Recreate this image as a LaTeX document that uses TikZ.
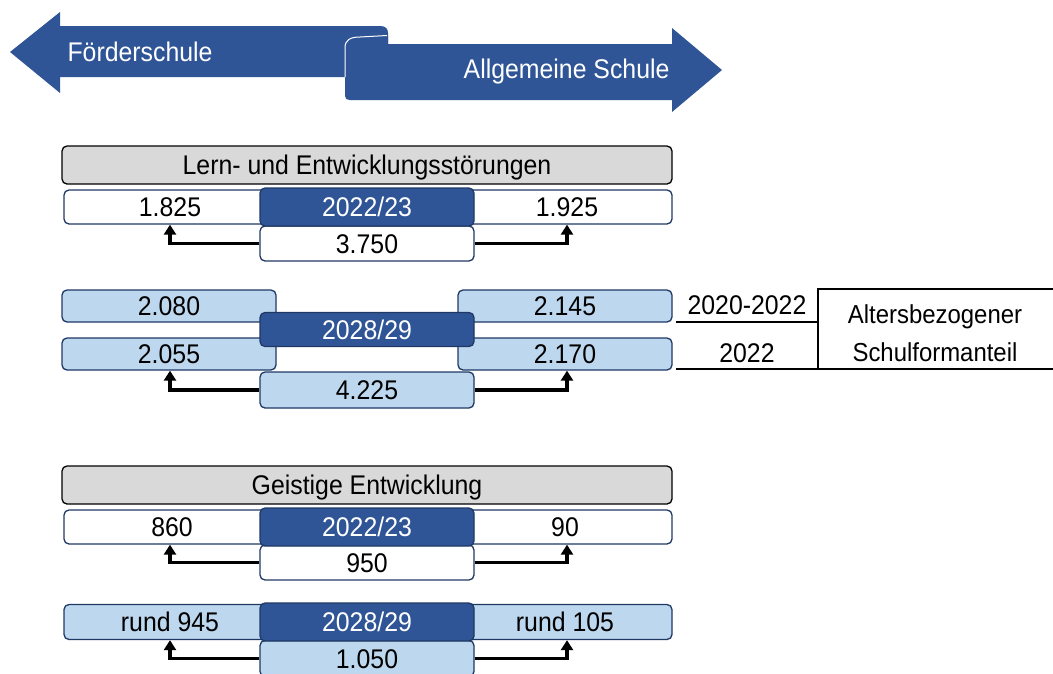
\documentclass[tikz,border=0pt]{standalone}
\usepackage{fontspec}
\setmainfont[FakeStretch=0.92]{Liberation Sans}
\usetikzlibrary{arrows.meta}
\definecolor{BannerBlue}{HTML}{2F5597}
\definecolor{BoxLine}{HTML}{1F3864}
\definecolor{PaleBlue}{HTML}{BDD7EE}
\definecolor{HeadGray}{HTML}{D9D9D9}

\tikzset{
  box/.style={draw=BoxLine, line width=1.3pt, rounded corners=5pt,
    minimum width=214pt, minimum height=34pt, inner sep=0pt,
    text height=19pt, text depth=0pt},
  headbox/.style={box, draw=black, fill=HeadGray, minimum width=610pt, minimum height=38pt},
  rowbox/.style={box, minimum width=608pt},
  yearbox/.style={box, fill=BannerBlue, text=white, minimum height=38pt},
  num/.style={inner sep=0pt, text height=19pt, text depth=0pt},
  arr/.style={line width=3.2pt, -{Triangle[length=10pt,width=12pt]}},
  rule/.style={line width=1.3pt},
}

\begin{document}
\begin{tikzpicture}[x=1pt,y=-1pt,font=\fontsize{27}{32}\selectfont]
  \useasboundingbox (0,0) rectangle (1053,673);

  % banner
  \fill[BannerBlue] (10,52) -- (60,12) -- (60,26) -- (380,26)
    .. controls (386,26) and (388,29) .. (388,33) -- (388,44) -- (345,44)
    -- (345,77) -- (60,77) -- (60,93) -- cycle;
  \fill[BannerBlue] (345,48) .. controls (345,40) and (350,37) .. (360,37)
    -- (388,36) -- (388,44) -- (672,44) -- (672,28) -- (722,70) -- (672,112)
    -- (672,100) -- (350,100) .. controls (347,100) and (345,99) .. (345,96) -- cycle;
  \draw[white, line width=1pt] (345,77) -- (345,48) .. controls (345,40) and (350,37) .. (360,37) -- (387,35.5);
  \node[text=white, anchor=west] (foerder) at (64,52) {Förderschule};
  \node[text=white, anchor=east] (allg) at (673,72) {Allgemeine Schule};

  % Lern- und Entwicklungsstoerungen, 2022/23
  \node[headbox] (head1) at (367,165) {Lern- und Entwicklungsstörungen};
  \node[rowbox, fill=white] (row1) at (368,207) {};
  \node[box, fill=white, minimum height=35pt] (tot1) at (367,243.5) {3.750};
  \node[yearbox] (yr1) at (367,207) {2022/23};
  \node[num] (v1l) at (170,207) {1.825};
  \node[num] (v1r) at (567,207) {1.925};
  \draw[arr] (tot1.west) -| (v1l |- row1.south);
  \draw[arr] (tot1.east) -| (v1r |- row1.south);

  % 2028/29
  \node[box, fill=PaleBlue, minimum height=32pt] (v2la) at (169,306) {2.080};
  \node[box, fill=PaleBlue, minimum height=32pt] (v2lb) at (169,354) {2.055};
  \node[box, fill=PaleBlue, minimum height=32pt] (v2ra) at (565,306) {2.145};
  \node[box, fill=PaleBlue, minimum height=32pt] (v2rb) at (565,354) {2.170};
  \node[yearbox, minimum height=34pt] (yr2) at (367,329.5) {2028/29};
  \node[box, fill=PaleBlue, minimum height=36pt] (tot2) at (367,390) {4.225};
  \draw[arr] (tot2.west) -| (v2lb.south -| v1l);
  \draw[arr] (tot2.east) -| (v2rb.south -| v1r);

  % legend
  \node (lgA) at (747,305) {2020-2022};
  \node (lgB) at (747,353) {2022};
  \node[align=center, font=\fontsize{26}{38}\selectfont] (lgC) at (935,333) {Altersbezogener\\Schulformanteil};
  \draw[rule] (676,322) -- (818,322);
  \draw[rule] (676,369) -- (1053,369);
  \draw[rule] (818,369) -- (818,289) -- (1053,289);

  % Geistige Entwicklung, 2022/23
  \node[headbox] (head2) at (367,485) {Geistige Entwicklung};
  \node[rowbox, fill=white] (row3) at (368,527) {};
  \node[box, fill=white, minimum height=35pt] (tot3) at (367,562.5) {950};
  \node[yearbox] (yr3) at (367,527) {2022/23};
  \node[num] (v3l) at (172,527) {860};
  \node[num] (v3r) at (565,527) {90};
  \draw[arr] (tot3.west) -| (v1l |- row3.south);
  \draw[arr] (tot3.east) -| (v1r |- row3.south);

  % 2028/29
  \node[rowbox, fill=PaleBlue, minimum height=35pt] (row4) at (368,622) {};
  \node[box, fill=PaleBlue, minimum height=36pt] (tot4) at (367,658.5) {1.050};
  \node[yearbox] (yr4) at (367,622) {2028/29};
  \node[num] (v4l) at (170,622) {rund 945};
  \node[num] (v4r) at (565,622) {rund 105};
  \draw[arr] (tot4.west) -| (v1l |- row4.south);
  \draw[arr] (tot4.east) -| (v1r |- row4.south);
\end{tikzpicture}
\end{document}
